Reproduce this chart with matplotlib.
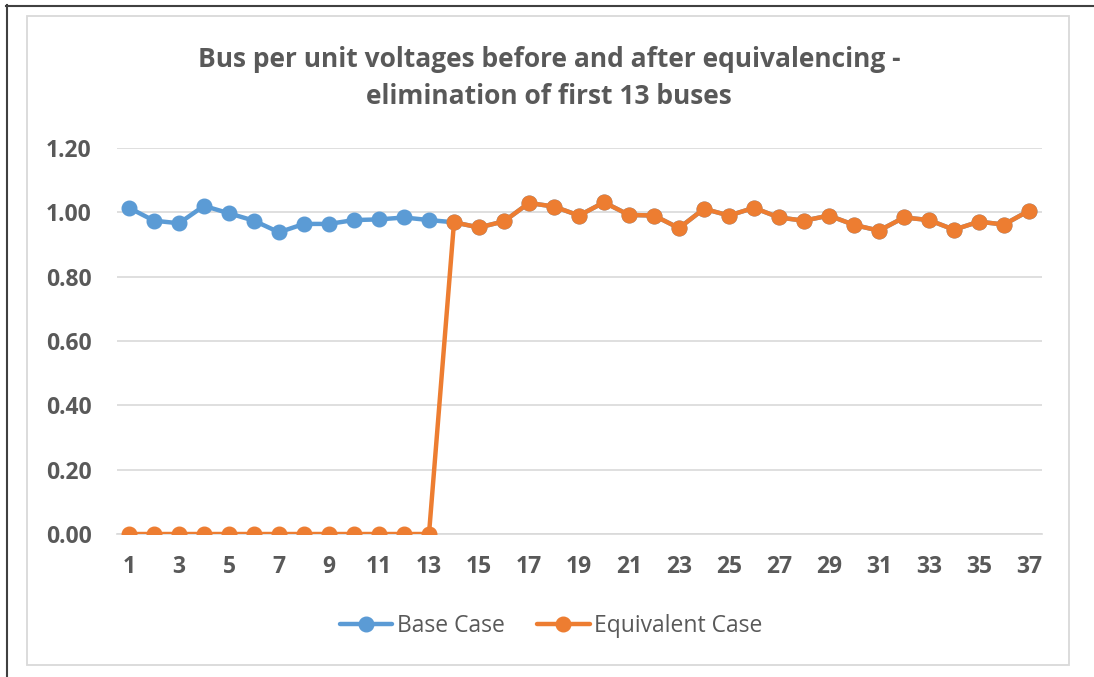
import matplotlib
matplotlib.use("Agg")
import matplotlib.pyplot as plt
from matplotlib.lines import Line2D
from matplotlib.patches import Rectangle

buses = list(range(1, 38))
base_case = [1.014, 0.974, 0.966, 1.020, 0.997, 0.974, 0.938, 0.964, 0.964, 0.976,
             0.978, 0.984, 0.976, 0.969, 0.953, 0.972, 1.029, 1.018, 0.990, 1.031,
             0.992, 0.990, 0.951, 1.011, 0.990, 1.014, 0.984, 0.974, 0.990, 0.961,
             0.943, 0.984, 0.976, 0.946, 0.971, 0.962, 1.005]
equivalent_case = [0.0] * 13 + base_case[13:]
y_ticks = [0.0, 0.2, 0.4, 0.6, 0.8, 1.0, 1.2]
x_ticks = list(range(1, 38, 2))
title = "Bus per unit voltages before and after equivalencing -\nelimination of first 13 buses"

plt.rcParams['font.family'] = ['Open Sans', 'DejaVu Sans']
W, H = 1094, 677
fig = plt.figure(figsize=(W / 100, H / 100), dpi=100)
ax = fig.add_axes([116.5 / W, 1 - 534 / H, (1041.5 - 116.5) / W, (534 - 148) / H])

blue = "#5B9BD5"
orange = "#ED7D31"
txt = "#595959"
grid = "#D9D9D9"

ax.plot(buses, base_case, color=blue, lw=3.2, marker='o', ms=10.5, label="Base Case",
        solid_capstyle='round', zorder=3)
ax.plot(buses, equivalent_case, color=orange, lw=3.2, marker='o', ms=10.5,
        label="Equivalent Case", solid_capstyle='round', zorder=4)

ax.set_xlim(0.5, 37.5)
ax.set_ylim(0, 1.2)
ax.set_yticks(y_ticks)
ax.set_yticklabels([f"{v:.2f}" for v in y_ticks])
ax.set_xticks(x_ticks)
ax.set_xticklabels([str(v) for v in x_ticks])
ax.grid(axis='y', color=grid, lw=1.2)
ax.set_axisbelow(True)
for s in ['top', 'right', 'left']:
    ax.spines[s].set_visible(False)
ax.spines['bottom'].set_color(grid)
ax.spines['bottom'].set_linewidth(1.2)
ax.tick_params(axis='both', length=0, labelsize=16.5, labelcolor=txt)
ax.tick_params(axis='x', pad=15)
ax.tick_params(axis='y', pad=18)
for lab in ax.get_xticklabels() + ax.get_yticklabels():
    lab.set_fontweight('bold')
ax.patch.set_visible(False)

fig.text(549 / W, 1 - 78 / H, title, ha='center', va='center', fontsize=19,
         fontweight='bold', color=txt, linespacing=1.5)

leg = fig.legend(loc='center', bbox_to_anchor=(551 / W, 1 - 626 / H), ncol=2, frameon=False,
                 fontsize=16.5, handlelength=2.3, handletextpad=0.2, columnspacing=1.4,
                 labelcolor=txt)

# chart area frame and outer border
fig.patches.append(Rectangle((27 / W, 1 - 665 / H), (1069 - 27) / W, (665 - 16) / H,
                             transform=fig.transFigure, fill=False, ec=grid, lw=1.3))
fig.lines.append(Line2D([6 / W, 1], [1 - 5.5 / H, 1 - 5.5 / H], transform=fig.transFigure,
                        color="#404040", lw=1.5))
fig.lines.append(Line2D([6.5 / W, 6.5 / W], [0, 1 - 5 / H], transform=fig.transFigure,
                        color="#404040", lw=1.5))

fig.savefig("out.png", dpi=100)
